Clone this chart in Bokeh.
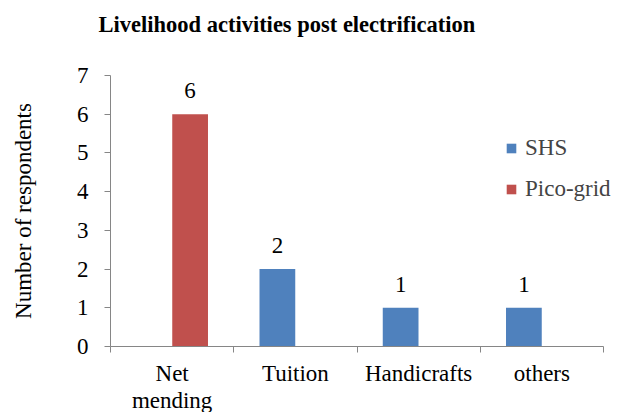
import numpy as np
from bokeh.plotting import figure
from bokeh.models import ColumnDataSource, Range1d, FixedTicker, LabelSet, Legend, LegendItem, Title
from bokeh.embed import file_html
from bokeh.resources import INLINE

categories = ["Net\nmending", "Tuition", "Handicrafts", "others"]
series_names = ["SHS", "Pico-grid"]
shs = [0, 2, 1, 1]
pico = [6, 0, 0, 0]
colors = ["#4F81BD", "#C0504D"]
y_ticks = [0, 1, 2, 3, 4, 5, 6, 7]
chart_title = "Livelihood activities post electrification"

FONT = "Liberation Serif"
FS = "23px"

n = len(categories)
pos = np.arange(1, n + 1)
bar_w = 0.29
offsets = [-0.146, 0.146]

# frame extends a little past the last category so the legend text is not clipped
cat_px = 123.25
extra = 21 / cat_px

p = figure(frame_width=514, frame_height=271, output_backend="svg", toolbar_location=None,
           x_range=Range1d(0.5, n + 0.5 + extra), y_range=Range1d(0, 7),
           min_border_left=110, min_border_right=0, min_border_top=75, min_border_bottom=60)
p.outline_line_color = None
p.grid.grid_line_color = None
p.background_fill_color = "white"
p.border_fill_color = "white"

renderers = []
label_x, label_y, label_t = [], [], []
for name, vals, col, off in zip(series_names, [shs, pico], colors, offsets):
    src = ColumnDataSource(dict(x=pos + off, top=vals))
    r = p.vbar(x="x", top="top", width=bar_w, bottom=0, source=src,
               fill_color=col, line_color=None)
    renderers.append(r)
    for xx, v in zip(pos + off, vals):
        if v > 0:
            label_x.append(xx)
            label_y.append(v)
            label_t.append(str(v))

lsrc = ColumnDataSource(dict(x=label_x, y=label_y, t=label_t))
labels = LabelSet(x="x", y="y", text="t", source=lsrc, text_align="center",
                  text_baseline="alphabetic", y_offset=16,
                  text_font=FONT, text_font_size=FS, text_color="black")
p.add_layout(labels)

legend = Legend(items=[LegendItem(label=nm, renderers=[r]) for nm, r in zip(series_names, renderers)],
                location=(395, 144), label_text_font=FONT, label_text_font_size=FS,
                glyph_width=12, glyph_height=12, label_height=23, spacing=15,
                label_standoff=8, padding=0, margin=0,
                border_line_color=None, background_fill_alpha=0)
p.add_layout(legend)

# x axis
p.xaxis.ticker = FixedTicker(ticks=list(pos), minor_ticks=list(np.arange(0.5, n + 1, 1.0)))
p.xaxis.bounds = (0.5, n + 0.5)
p.xaxis.major_label_overrides = {int(k): v for k, v in zip(pos, categories)}
p.xaxis.major_tick_line_color = None
p.xaxis.minor_tick_in = 0
p.xaxis.minor_tick_out = 6
p.xaxis.minor_tick_line_color = "#868686"
p.xaxis.axis_line_color = "#868686"
p.xaxis.major_label_standoff = 8
p.xaxis.major_label_text_line_height = 1.1
p.xaxis.major_label_text_font = FONT
p.xaxis.major_label_text_font_size = FS
p.xaxis.major_label_text_color = "black"

# y axis
p.yaxis.ticker = FixedTicker(ticks=y_ticks)
p.yaxis.minor_tick_line_color = None
p.yaxis.major_tick_in = 0
p.yaxis.major_tick_out = 6
p.yaxis.major_tick_line_color = "#868686"
p.yaxis.axis_line_color = "#868686"
p.yaxis.major_label_standoff = 16
p.yaxis.major_label_text_font = FONT
p.yaxis.major_label_text_font_size = FS
p.yaxis.major_label_text_color = "black"
p.yaxis.axis_label = "Number of respondents"
p.yaxis.axis_label_text_font = FONT
p.yaxis.axis_label_text_font_size = FS
p.yaxis.axis_label_text_font_style = "normal"
p.yaxis.axis_label_text_color = "black"
p.yaxis.axis_label_standoff = 38

# title: an invisible spacer title keeps the real title well above the frame
p.title = None
spacer = Title(text=" ", text_font_size="10px", standoff=17)
main_title = Title(text=chart_title, text_font=FONT, text_font_size="22.5px",
                   text_font_style="bold", align="left", offset=-12,
                   vertical_align="bottom", standoff=18, text_color="black")
p.add_layout(spacer, "above")
p.add_layout(main_title, "above")

open("out.html", "w").write(file_html(p, INLINE))
